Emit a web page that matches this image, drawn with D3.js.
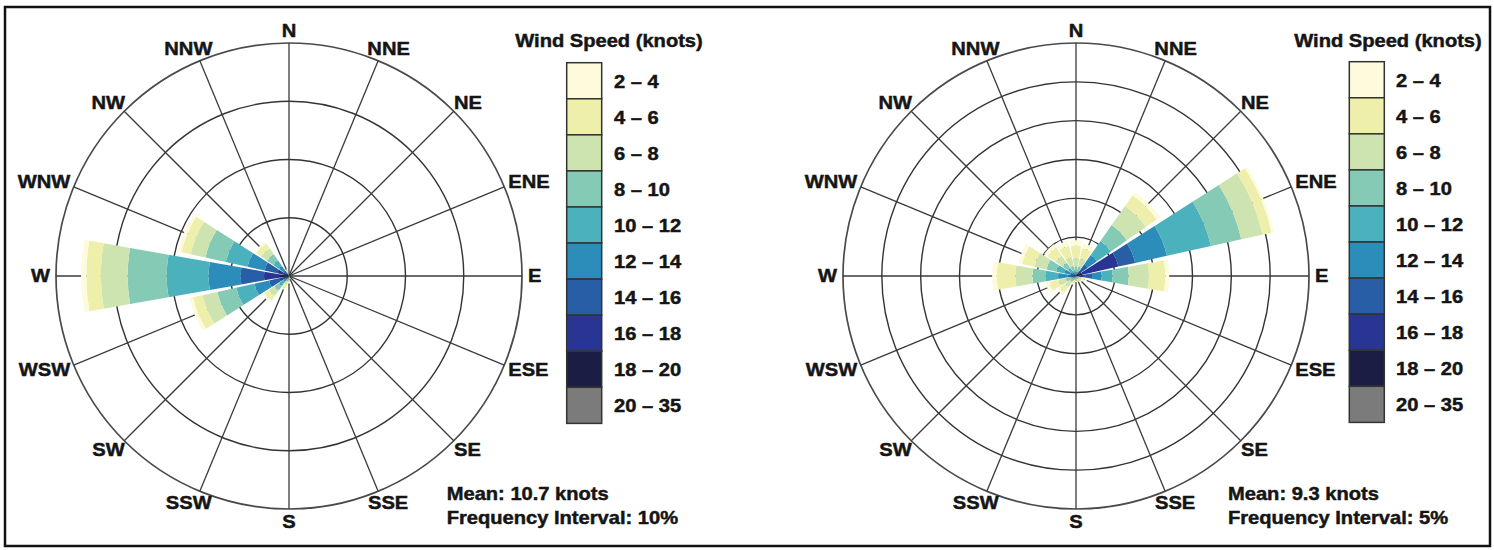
<!DOCTYPE html>
<html><head><meta charset="utf-8">
<script src="https://cdn.jsdelivr.net/npm/d3@7"></script>
<style>
html,body{margin:0;padding:0;background:#fff;}
svg{display:block;}
text{font-family:"Liberation Sans",Arial,Helvetica,sans-serif;font-weight:bold;fill:#151515;stroke:#151515;stroke-width:0.45px;}
</style></head><body>
<svg id="chart" width="1494" height="550"></svg>
<script>
// ---------------- data ----------------
const directions = ["N","NNE","NE","ENE","E","ESE","SE","SSE","S","SSW","SW","WSW","W","WNW","NW","NNW"];
const speedBins = ["2 – 4","4 – 6","6 – 8","8 – 10","10 – 12","12 – 14","14 – 16","16 – 18","18 – 20","20 – 35"];
const binColors = ["#fdfbdc","#eeefaa","#cde4b1","#84cab5","#4bb1bd","#2c8dbb","#285ea6","#283593","#1b1d45","#7b7b7b"];

// frequency (%) per direction (N, clockwise) per speed bin (2–4 ... 20–35)
const leftFreq = [
  [0,0,0,0,0,0,0,0,0,0],                 // N
  [0,0,0,0,0,0,0,0,0,0],                 // NNE
  [0,0,0,0,0,0,0,0,0,0],                 // NE
  [0,0,0,0,0,0,0,0,0,0],                 // ENE
  [0,0,0,0,0,0,0,0,0,0],                 // E
  [0,0,0,0,0,0,0,0,0,0],                 // ESE
  [0,0,0,0,0,0,0,0,0,0],                 // SE
  [0.2,0.2,0.1,0.1,0,0,0,0,0,0],         // SSE
  [0.3,0.4,0.3,0.2,0.1,0,0,0,0,0],       // S
  [0.3,0.7,0.6,0.5,0.3,0.1,0,0,0,0],     // SSW
  [0.4,1.0,1.1,1.0,0.9,0.6,0.4,0.2,0,0], // SW
  [0.6,1.7,2.6,3.3,3.2,2.6,1.9,1.1,0.5,0], // WSW
  [0.9,2.5,4.6,6.7,7.2,5.5,4.0,2.6,1.5,0.2], // W
  [0.6,1.6,2.6,3.6,3.8,3.0,2.2,1.4,0.7,0],   // WNW
  [0.4,1.0,1.2,1.3,1.2,1.0,0.6,0.3,0.2,0],   // NW
  [0.2,0.4,0.3,0.2,0.1,0,0,0,0,0]            // NNW
];
const rightFreq = [
  [0.7,1.6,1.1,0.7,0.3,0.2,0,0,0,0],         // N
  [0.6,1.4,1.1,0.7,0.3,0.2,0,0,0,0],         // NNE
  [0.5,1.7,3.0,2.5,2.2,1.5,1.0,0.6,0.2,0],   // NE
  [0.3,1.2,2.8,4.0,5.8,4.2,2.2,4.8,0.8,0],   // ENE
  [0.5,2.1,2.6,2.1,1.4,1.2,1.1,0.7,0.3,0],   // E
  [0.3,0.5,0.4,0.2,0.1,0,0,0,0,0],           // ESE
  [0.2,0.4,0.3,0.1,0,0,0,0,0,0],             // SE
  [0.2,0.3,0.2,0.1,0,0,0,0,0,0],             // SSE
  [0.2,0.3,0.2,0.1,0,0,0,0,0,0],             // S
  [0.3,0.4,0.3,0.2,0,0,0,0,0,0],             // SSW
  [0.4,0.9,0.8,0.5,0.3,0.1,0,0,0,0],         // SW
  [0.5,1.2,1.0,0.7,0.4,0.2,0,0,0,0],         // WSW
  [0.6,2.4,2.2,1.7,1.6,1.3,0.5,0.4,0.1,0],   // W
  [0.5,1.6,1.6,1.3,1.1,0.8,0.5,0.2,0,0],     // WNW
  [0.5,1.3,1.1,0.9,0.6,0.4,0.2,0,0,0],       // NW
  [0.6,1.5,1.2,0.7,0.4,0.2,0,0,0,0]          // NNW
];
const legendTitle = "Wind Speed (knots)";
const leftNotes = ["Mean: 10.7 knots", "Frequency Interval: 10%"];
const rightNotes = ["Mean: 9.3 knots", "Frequency Interval: 5%"];
const leftRings = [10,20,30,40];
const rightRings = [5,10,15,20,25,30];

// ---------------- drawing ----------------
const svg = d3.select("#chart");
const SX = 1.15, FS = 17.5;
function label(parent, x, y, s, anchor){
  const g = parent.append("g").attr("transform", `translate(${x},${y}) scale(${SX},1)`);
  return g.append("text").attr("text-anchor", anchor || "start").attr("dy","0.35em")
    .attr("font-size", FS).text(s);
}

svg.append("rect").attr("x",5).attr("y",7).attr("width",1485).attr("height",539)
  .attr("fill","none").attr("stroke","#111").attr("stroke-width",2.5);

const panels = [
  {cx:289, cy:276, freq:leftFreq, rings:leftRings, lx:566.7, ly:62.7, tx:609, labx:614, nx:446.7, notes:leftNotes},
  {cx:1076, cy:276, freq:rightFreq, rings:rightRings, lx:1349.3, ly:61.7, tx:1388, labx:1396, nx:1228, notes:rightNotes}
];
const R = 233, HW = 10 * Math.PI/180;

panels.forEach(p => {
  const g = svg.append("g").attr("transform", `translate(${p.cx},${p.cy})`);
  const r = d3.scaleLinear().domain([0, d3.max(p.rings)]).range([0, R]);
  const ang = d3.scaleLinear().domain([0, directions.length]).range([0, 2*Math.PI]);

  // rings
  g.selectAll("circle.ring").data(p.rings).join("circle")
    .attr("r", d => r(d)).attr("fill","none")
    .attr("stroke", (d,i) => i === p.rings.length-1 ? "#4a4a4a" : "#333")
    .attr("stroke-width", (d,i) => i === p.rings.length-1 ? 1.7 : 1.4);
  // spokes
  g.selectAll("line.spoke").data(directions).join("line")
    .attr("x1",0).attr("y1",0)
    .attr("x2",(d,i)=> R*Math.sin(ang(i))).attr("y2",(d,i)=> -R*Math.cos(ang(i)))
    .attr("stroke","#3a3a3a").attr("stroke-width",1.3);

  // stacked wedges (highest speed innermost)
  const arc = d3.arc();
  const segs = [];
  p.freq.forEach((vals, i) => {
    let c = 0;
    for (let b = vals.length-1; b >= 0; b--) {
      const v = vals[b];
      if (v > 0) { segs.push({i, b, c0:c, c1:c+v}); c += v; }
    }
  });
  g.selectAll("path.seg").data(segs).join("path")
    .attr("d", d => arc({innerRadius:r(d.c0), outerRadius:r(d.c1),
        startAngle:ang(d.i)-HW, endAngle:ang(d.i)+HW}))
    .attr("fill", d => binColors[d.b]);

  // direction labels
  directions.forEach((dname, i) => {
    const a = ang(i), s = Math.sin(a), c = Math.cos(a);
    const t = label(svg, 0, 0, dname, "middle");
    const w = t.node().getComputedTextLength() * SX;
    const x = p.cx + R*s + s*(w/2 + 6);
    const y = p.cy - R*c - c*(6.5 + 6);
    d3.select(t.node().parentNode).attr("transform", `translate(${x},${y}) scale(${SX},1)`);
  });

  // legend
  label(svg, p.tx, 41, legendTitle, "middle");
  const bh = 36.07;
  svg.selectAll(null).data(speedBins).join("rect")
    .attr("x", p.lx).attr("y", (d,i) => p.ly + i*bh)
    .attr("width", 35).attr("height", bh)
    .attr("fill", (d,i) => binColors[i]).attr("stroke","#333").attr("stroke-width",1.5);
  speedBins.forEach((s,i) => label(svg, p.labx, p.ly + i*bh + bh/2 + 1, s, "start"));

  // notes
  label(svg, p.nx, 494, p.notes[0], "start");
  label(svg, p.nx, 518, p.notes[1], "start");
});
</script>
</body></html>
